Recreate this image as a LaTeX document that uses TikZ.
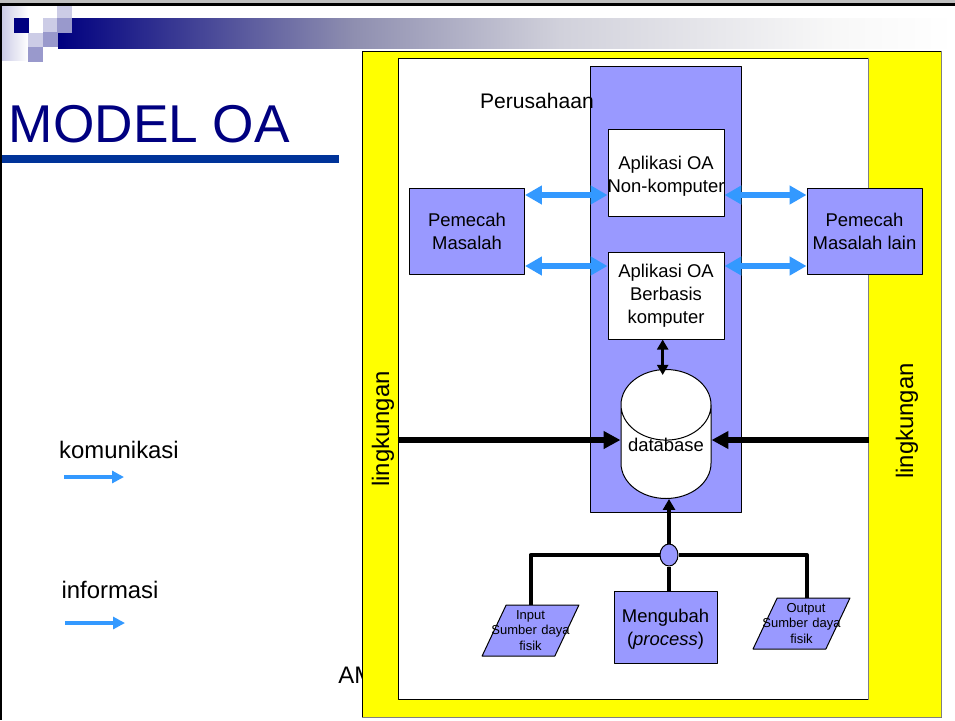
\documentclass[tikz,border=0pt]{standalone}
\usepackage{fontspec}
\setmainfont{Liberation Sans}
\usetikzlibrary{arrows.meta,shapes.geometric}
\definecolor{navy}{HTML}{000080}
\definecolor{rulebar}{HTML}{003399}
\definecolor{boxblue}{HTML}{9999FF}
\definecolor{flowblue}{HTML}{3399FF}
\definecolor{squarelight}{HTML}{CCCCE6}
\definecolor{squaremid}{HTML}{9999CC}
\definecolor{envyellow}{RGB}{255,255,0}
\pgfdeclarehorizontalshading{barshade}{100bp}{rgb(0bp)=(0,0,.5); rgb(25bp)=(0,0,.5); rgb(41.5bp)=(.56,.56,.69); rgb(53bp)=(.82,.82,.86); rgb(68bp)=(.97,.97,.97); rgb(75bp)=(1,1,1); rgb(100bp)=(1,1,1)}
\def\px{0.02cm}
\newcommand{\bodysize}{\fontsize{10.5}{13}\selectfont}
\newcommand{\smallsize}{\fontsize{7.4}{9}\selectfont}
\newcommand{\largesize}{\fontsize{13.6}{16}\selectfont}
\tikzset{
	areabox/.style={draw=black,line width=1*\px,inner sep=0pt},
	appbox/.style={areabox,fill=white,align=center,font=\bodysize,minimum width=116*\px,minimum height=87*\px},
	solverbox/.style={areabox,fill=boxblue,align=center,font=\bodysize,minimum width=115*\px,minimum height=86*\px},
	slantbox/.style={areabox,fill=boxblue,trapezium,trapezium left angle=70,trapezium right angle=110,trapezium stretches=true,minimum width=97*\px,minimum height=51*\px,align=center,font=\smallsize,text width=30*\px},
	commarrow/.style={{Triangle[length=9.6pt,width=10.2pt]}-{Triangle[length=9.6pt,width=10.2pt]},draw=flowblue,line width=6.5*\px},
	legendarrow/.style={-{Triangle[length=6.8pt,width=6.8pt]},draw=flowblue,line width=3.5*\px},
	inputarrow/.style={-{Triangle[length=9.6pt,width=9.6pt]},line width=6*\px},
	wire/.style={line width=4*\px}
}
\begin{document}
\begin{tikzpicture}[x=\px,y=-\px,line join=round]
	\useasboundingbox (0,0) rectangle (955,720);
	% frame and header
	\fill[lightgray] (0,0) rectangle (955,3);
	\fill[black] (0,3) rectangle (955,6);
	\fill[black] (0,3) rectangle (2,720);
	\shade[left color=squarelight,right color=white] (2,6) rectangle (28,60);
	\shade[shading=barshade] (58,18) rectangle (955,48);
	\fill[navy] (14,18) rectangle (29,33);
	\foreach \x/\y in {57/6,43/18,28/33}
	{
		\fill[squarelight] (\x,\y) rectangle ++(15,14);
	}
	\foreach \x/\y in {57/18,43/32,28/47}
	{
		\fill[squaremid] (\x,\y) rectangle ++(15,15);
	}
	\node[anchor=west,inner sep=0pt,text=navy,font=\fontsize{30.3}{34}\selectfont] (title) at (8.5,124) {MODEL OA};
	\fill[rulebar] (2,155) rectangle (339,163);
	% legend
	\node[font=\largesize,inner sep=0pt] (komunikasi) at (119,450) {komunikasi};
	\coordinate (komunikasiFrom) at (64,477);
	\coordinate (komunikasiTo) at (124,477);
	\draw[legendarrow] (komunikasiFrom) -- (komunikasiTo);
	\node[font=\largesize,inner sep=0pt] (informasi) at (110,590) {informasi};
	\coordinate (informasiFrom) at (65,623);
	\coordinate (informasiTo) at (125,623);
	\draw[legendarrow] (informasiFrom) -- (informasiTo);
	\node[anchor=west,font=\largesize,inner sep=0pt] (footer) at (338,675) {AM};
	% areas
	\node[areabox,fill=envyellow,minimum width=579*\px,minimum height=666*\px] (outside) at (651.5,384) {};
	\draw[gray,line width=1.5*\px] (outside.north east) -- (outside.south east) -- (outside.south west);
	\node[areabox,fill=white,minimum width=470*\px,minimum height=641*\px] (company) at (633,378.5) {};
	\draw[gray,line width=1.5*\px] (company.north east) -- (company.south east);
	\node[areabox,fill=boxblue,minimum width=151*\px,minimum height=446*\px] (core) at (665.5,289) {};
	\node[font=\largesize,rotate=90,inner sep=0pt] (envLeft) at (383,429) {lingkungan};
	\node[font=\largesize,rotate=90,inner sep=0pt] (envRight) at (907,421) {lingkungan};
	\node[font=\fontsize{12}{14}\selectfont,inner sep=0pt] (perusahaan) at (537,101) {Perusahaan};
	% boxes
	\node[appbox] (appNon) at (666,173) {\rule{0pt}{11pt}Aplikasi OA\\\makebox[0pt]{Non-komputer}};
	\node[appbox] (appKomp) at (666,295.5) {Aplikasi OA\\Berbasis\\komputer};
	\node[solverbox] (solver) at (467,231) {Pemecah\\Masalah};
	\node[solverbox] (solverOther) at (864.5,231) {Pemecah\\\makebox[0pt]{Masalah lain}};
	\node[areabox,fill=white,cylinder,shape border rotate=90,aspect=0.93,minimum width=90*\px,minimum height=129*\px,font=\bodysize,anchor=north] (db) at (666,369) {\smash{database}};
	\node[areabox,fill=boxblue,ellipse,minimum width=18*\px,minimum height=22*\px] (junction) at (669,555) {};
	\node[solverbox,minimum width=103*\px,minimum height=72*\px] (process) at (665.5,627) {\rule{0pt}{10pt}Mengubah\\(\textit{process})};
	\node[slantbox] (input) at (530.5,630.5) {Input\\\makebox[0pt]{Sumber daya}\\fisik};
	\node[slantbox] (output) at (801.5,623.5) {Output\\\makebox[0pt]{Sumber daya}\\fisik};
	% connectors
	\coordinate (rowTop) at (660,195);
	\coordinate (rowLow) at (660,266);
	\draw[commarrow] (rowTop -| solver.east) -- (rowTop -| appNon.west);
	\draw[commarrow] (rowLow -| solver.east) -- (rowLow -| appKomp.west);
	\draw[commarrow] (rowTop -| appNon.east) -- (rowTop -| solverOther.west);
	\draw[commarrow] (rowLow -| appKomp.east) -- (rowLow -| solverOther.west);
	\draw[{Triangle[length=5.7pt,width=6.2pt]}-{Triangle[length=5.7pt,width=6.2pt]},line width=3.5*\px] ([xshift=-1.9pt]appKomp.south) -- ([xshift=-1.9pt,yshift=-3.4pt]appKomp.south |- db.north);
	\coordinate (rowEnv) at (660,440);
	\draw[inputarrow] (rowEnv -| company.west) -- (rowEnv -| db.west);
	\draw[inputarrow] (rowEnv -| company.east) -- (rowEnv -| db.east);
	\draw[wire,-{Triangle[length=6.2pt,width=6.8pt]}] (junction.north) -- (junction.north |- db.south);
	\draw[wire] (junction.south) -- (junction.south |- process.north);
	\draw[wire] (input.north) |- (junction.west);
	\draw[wire] ([xshift=3pt]output.north) |- (junction.east);
\end{tikzpicture}
\end{document}
